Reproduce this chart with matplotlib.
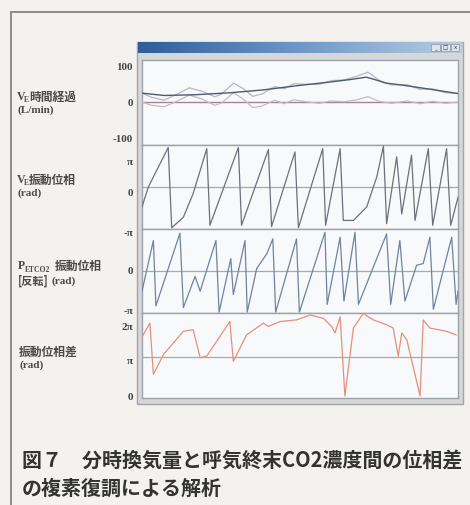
import numpy as np
import matplotlib
matplotlib.use("Agg")
import matplotlib.pyplot as plt
from matplotlib.patches import Rectangle
from matplotlib.lines import Line2D
from matplotlib.colors import LinearSegmentedColormap

PI = np.pi

# ---- panel 1: minute ventilation over time (L/min) ----
ve_trend_t = [0, 7, 17, 28, 38, 50, 60, 66, 71, 74, 77, 82, 87, 92, 100]
ve_trend_v = [23, 17, 19, 24, 31, 43, 52, 58, 64, 57, 49, 44, 38, 32, 22]

ve_osc_t = [0, 3, 7, 11, 15, 19, 23, 25, 29, 32, 35, 38, 42, 45, 48, 52,
            56, 60, 64, 68, 71.5, 75, 79, 84, 88, 92, 96, 100]
ve_osc_v = [0, -8, -12, 2, 18, 8, -8, -3, 24, 8, -14, -10, 5, -4, 6, 1,
            -3, 3, 1, 6, 14, 2, -3, 3, -4, 2, -3, 0]

# ---- panel 2: VE oscillation phase (units of pi) ----
ve_phase_t = [0, 2.0, 8.3, 9.4, 13.1, 16.2, 20.5, 21.5, 30.5, 31.5, 40.0, 41.0,
              48.4, 49.5, 57.2, 58.1, 62.7, 63.7, 66.9, 71.1, 74.3, 76.4, 77.4,
              80.6, 82.2, 85.3, 86.4, 90.6, 92.0, 96.4, 97.7, 100]
ve_phase_p = [-0.49, 0.0, 0.97, -1.0, -0.74, -0.16, 0.94, -0.94, 0.97, -0.94, 0.92, -0.97,
              0.86, -1.0, 0.94, -0.94, 0.94, -0.82, -0.82, -0.49, 0.25, 1.0, -0.90,
              0.74, -0.66, 0.78, -0.82, 0.94, -0.94, 0.94, -0.94, -0.25]

# ---- panel 3: PETCO2 oscillation phase, inverted (units of pi) ----
co2_phase_t = [0, 3.6, 4.4, 12.0, 13.1, 16.8, 18.4, 23.4, 24.4, 28.1, 28.9, 32.6, 33.3,
               36.3, 39.5, 41.4, 42.3, 48.9, 49.8, 57.9, 58.6, 62.7, 63.9, 67.4, 68.5,
               77.4, 78.7, 81.6, 83.2, 86.9, 89.0, 91.1, 92.2, 98.0, 99.4, 100]
co2_phase_p = [-0.49, 0.74, -0.85, 0.92, -0.89, -0.13, -0.49, 0.74, -1.0, 0.30, -0.57, 0.74, -1.0,
               0.06, 0.42, 0.78, -1.0, 0.78, -1.0, 0.94, -0.81, 0.82, -0.73, 0.94, -0.81,
               0.90, -0.81, 0.74, -0.73, 0.14, 0.18, 0.82, -0.93, 0.82, -0.81, -0.49]

# ---- panel 4: phase difference (units of pi) ----
diff_t = [0, 2.5, 3.6, 6.8, 13.1, 16.2, 18.4, 20.5, 27.8, 28.9, 33.1, 38.4, 40.0,
          43.7, 48.9, 53.2, 57.4, 60.0, 61.1, 62.7, 64.2, 66.9, 70.0, 73.2, 77.4,
          79.5, 81.1, 82.2, 83.8, 88.0, 89.0, 91.1, 96.4, 99.4]
diff_p = [1.49, 1.83, 0.57, 1.06, 1.63, 1.67, 0.98, 1.02, 1.87, 0.89, 1.54, 1.83, 1.75,
          1.87, 1.91, 2.03, 1.95, 1.75, 1.59, 1.99, 0.04, 1.71, 2.07, 1.91, 1.79,
          1.71, 1.02, 1.59, 1.42, 0.04, 1.91, 1.71, 1.63, 1.54]

W, H = 470, 505
fig = plt.figure(figsize=(W / 100, H / 100), dpi=100)
fig.patch.set_facecolor("#f3f2ee")


def fx(x):
    return x / W


def fy(y):
    return 1 - y / H


def add_axes_px(x0, y0, x1, y1):
    return fig.add_axes([fx(x0), fy(y1), (x1 - x0) / W, (y1 - y0) / H])


# outer page frame
fig.add_artist(Line2D([fx(11), fx(11)], [fy(12), 0], transform=fig.transFigure,
                      color="#8c8c8c", lw=1.4, zorder=-2))
fig.add_artist(Line2D([fx(11), 1], [fy(12), fy(12)], transform=fig.transFigure,
                      color="#8c8c8c", lw=1.4, zorder=-2))

# application window frame
fig.add_artist(Rectangle((fx(137), fy(404)), (463 - 137) / W, (404 - 42) / H,
                         transform=fig.transFigure, facecolor="#d6d7d9",
                         edgecolor="#a2a4a8", lw=1, zorder=-1))

# title bar with gradient
tb = add_axes_px(138, 42, 462, 53)
grad = LinearSegmentedColormap.from_list("tb", ["#2e5d9a", "#6e98c8", "#b9cde3"])
tb.imshow(np.linspace(0, 1, 256)[None, :], cmap=grad, aspect="auto",
          extent=[0, 1, 0, 1])
tb.set_xlim(0, 1)
tb.set_ylim(0, 1)
tb.axis("off")
for bx in (0.905, 0.935, 0.965):
    tb.add_patch(Rectangle((bx, 0.15), 0.027, 0.7, facecolor="#dfe4ea",
                           edgecolor="#8a95a5", lw=0.5))
tb.text(0.9185, 0.45, "_", ha="center", va="center", fontsize=4, color="#333")
tb.text(0.9485, 0.5, "□", ha="center", va="center", fontsize=4, color="#333")
tb.text(0.9785, 0.5, "x", ha="center", va="center", fontsize=4, color="#333")

# data panels
rows = [(60, 145), (145, 229), (229, 313), (313, 398)]
axes = [add_axes_px(142, a, 458, b) for a, b in rows]
for ax in axes:
    ax.set_facecolor("#f7f9fa")
    ax.set_xlim(0, 100)
    ax.set_xticks([])
    ax.set_yticks([])
    for s in ax.spines.values():
        s.set_color("#9ca2aa")
        s.set_linewidth(1.0)

ref_kw = dict(color="#a4aab2", lw=0.9, zorder=1)

ax1, ax2, ax3, ax4 = axes
ax1.set_ylim(-110, 108)
tt = np.array(ve_osc_t)
trend_i = np.interp(tt, ve_trend_t, ve_trend_v)
raw = trend_i + np.array(ve_osc_v)
ax1.axhline(0, color="#9c8a92", lw=1.0, zorder=2)
ax1.plot(ve_osc_t, ve_osc_v, color="#cdb9c2", lw=0.9, zorder=3)
ax1.plot(ve_osc_t, raw, color="#b7b7c6", lw=0.9, zorder=3)
ax1.plot(ve_trend_t, ve_trend_v, color="#4f5b6b", lw=1.0, zorder=4)

ax2.set_ylim(-1.03 * PI, 1.03 * PI)
ax2.axhline(0, **ref_kw)
ax2.plot(ve_phase_t, np.array(ve_phase_p) * PI, color="#6b717d", lw=0.9, zorder=3)

ax3.set_ylim(-1.02 * PI, 1.02 * PI)
ax3.axhline(0, **ref_kw)
ax3.plot(co2_phase_t, np.array(co2_phase_p) * PI, color="#6f83a3", lw=0.9, zorder=3)

ax4.set_ylim(-0.01 * PI, 2.08 * PI)
ax4.axhline(PI, **ref_kw)
ax4.plot(diff_t, np.array(diff_p) * PI, color="#e3917c", lw=0.9, zorder=3)

# axis value labels
serif = ["Liberation Serif", "DejaVu Serif"]
tick_txt = [("100", 67), ("0", 103), ("-100", 139),
            ("π", 162), ("0", 193), ("-π", 234),
            ("0", 272), ("-π", 312),
            ("2π", 327), ("π", 361), ("0", 398)]
for s, y in tick_txt:
    fig.text(fx(133), fy(y), s, ha="right", va="center", fontsize=8,
             family=serif, weight="bold", color="#454545")

# panel labels
jp = ["Noto Sans CJK JP", "DejaVu Sans"]
lab_kw = dict(va="center", ha="left", color="#4a4a4a")


def label_vx(y, rest):
    fig.text(fx(17), fy(y), "V", fontsize=8.5, family=serif, weight="bold", **lab_kw)
    fig.text(fx(24), fy(y + 3), "E", fontsize=5.5, family=serif, weight="bold", **lab_kw)
    fig.text(fx(29), fy(y), rest, fontsize=8.5, family=jp, weight="bold", **lab_kw)


label_vx(97, "時間経過")
fig.text(fx(17), fy(110), "(L/min)", fontsize=8, family=serif, weight="bold", **lab_kw)

label_vx(180, "振動位相")
fig.text(fx(17), fy(193), "(rad)", fontsize=8, family=serif, weight="bold", **lab_kw)

fig.text(fx(18), fy(266), "P", fontsize=8.5, family=serif, weight="bold", **lab_kw)
fig.text(fx(25), fy(270), "ETCO2", fontsize=5.5, family=serif, weight="bold", **lab_kw)
fig.text(fx(55), fy(266), "振動位相", fontsize=8.5, family=jp, weight="bold", **lab_kw)
fig.text(fx(18), fy(281), "[反転]", fontsize=8, family=jp, weight="bold", **lab_kw)
fig.text(fx(51), fy(281), "(rad)", fontsize=8, family=serif, weight="bold", **lab_kw)

fig.text(fx(19), fy(352), "振動位相差", fontsize=8.5, family=jp, weight="bold", **lab_kw)
fig.text(fx(19), fy(365), "(rad)", fontsize=8, family=serif, weight="bold", **lab_kw)

# caption
cap_kw = dict(ha="left", va="center", fontsize=14.4, family=jp, weight="bold",
              color="#333333")
fig.text(fx(22), fy(460), "図７　分時換気量と呼気終末CO2濃度間の位相差", **cap_kw)
fig.text(fx(22), fy(488), "の複素復調による解析", **cap_kw)

fig.savefig("out.png", dpi=100, facecolor=fig.get_facecolor())
